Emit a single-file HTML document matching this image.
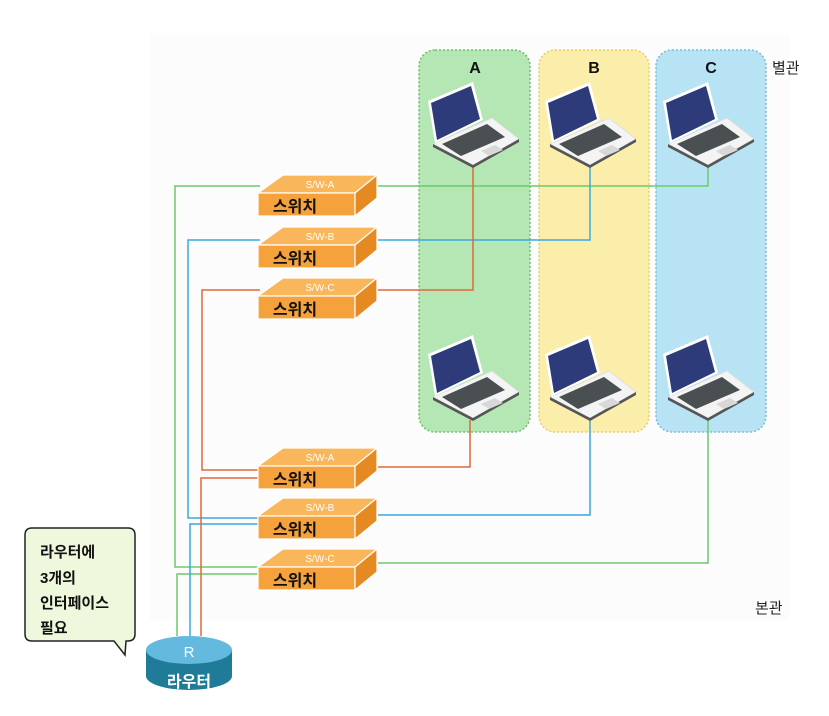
<!DOCTYPE html>
<html><head><meta charset="utf-8"><style>
html,body{margin:0;padding:0;background:#fff;}
svg{display:block;font-family:"Liberation Sans","Noto Sans CJK KR",sans-serif;}
</style></head><body>
<svg width="829" height="716" viewBox="0 0 829 716" xmlns="http://www.w3.org/2000/svg">
<defs>
<g id="sw">
  <polygon points="283,0 377,0 355,18 258,18" fill="#f9b65a" stroke="#fff" stroke-width="1.2"/>
  <rect x="258" y="18" width="97" height="23" fill="#f5a23c" stroke="#fff" stroke-width="1.2"/>
  <polygon points="355,18 377,0 377,23 355,41" fill="#e58a22" stroke="#fff" stroke-width="1.2"/>
  <text x="295" y="37" font-size="16" font-weight="bold" fill="#111" text-anchor="middle">스위치</text>
</g>
<g id="lap">
  <polygon points="-40,-21 19,-47 46,-26 0,0" fill="#f4f4f4" stroke="#ddd" stroke-width="0.8"/>
  <polygon points="-40,-21 0,0 46,-26 46,-23 0,3 -40,-18" fill="#555"/>
  <polygon points="-31,-21 14,-41 32,-28 -12,-9" fill="#4a4f52"/>
  <polygon points="8,-14 22,-20 30,-15 16,-9" fill="#d8d8d8"/>
  <polygon points="-45,-64 0,-83 10,-45 -38,-22" fill="#fff"/>
  <polygon points="-42,-62 -2,-79 7,-46 -36,-25" fill="#2d3b7a"/>
</g>
</defs>
<rect x="150" y="35" width="640" height="585" fill="#fcfcfc"/>
<rect x="419" y="50" width="111" height="382" rx="16" fill="#b4e7b4" stroke="#6cbf6c" stroke-width="1.5" stroke-dasharray="2,2"/>
<rect x="539" y="50" width="110" height="382" rx="16" fill="#fbeeaa" stroke="#e6cf6a" stroke-width="1.5" stroke-dasharray="2,2"/>
<rect x="656" y="50" width="110" height="382" rx="16" fill="#b8e3f4" stroke="#72bedc" stroke-width="1.5" stroke-dasharray="2,2"/>
<text x="475" y="73" font-size="16" font-weight="bold" text-anchor="middle" fill="#111">A</text>
<text x="594" y="73" font-size="16" font-weight="bold" text-anchor="middle" fill="#111">B</text>
<text x="711" y="73" font-size="16" font-weight="bold" text-anchor="middle" fill="#111">C</text>
<text x="772" y="73" font-size="15" fill="#222">별관</text>
<text x="755" y="613" font-size="15" fill="#222">본관</text>
<g fill="none" stroke-width="1.5">
  <polyline stroke="#6dc96d" points="260,186 175,186 175,567 258,567"/>
  <polyline stroke="#6dc96d" points="258,574 177,574 177,636"/>
  <polyline stroke="#6dc96d" points="378,186 708,186 708,165"/>
  <polyline stroke="#6dc96d" points="378,563 708,563 708,420"/>
  <polyline stroke="#3aa8e0" points="260,240 188,240 188,518 258,518"/>
  <polyline stroke="#3aa8e0" points="258,524 190,524 190,636"/>
  <polyline stroke="#3aa8e0" points="378,240 590,240 590,165"/>
  <polyline stroke="#3aa8e0" points="378,515 590,515 590,420"/>
  <polyline stroke="#e2683a" points="260,290 202,290 202,470 258,470"/>
  <polyline stroke="#e2683a" points="258,478 201,478 201,636"/>
  <polyline stroke="#e2683a" points="378,290 473,290 473,165"/>
  <polyline stroke="#e2683a" points="378,467 470,467 470,420"/>
</g>
<use href="#lap" x="473" y="165"/>
<use href="#lap" x="590" y="165"/>
<use href="#lap" x="708" y="165"/>
<use href="#lap" x="473" y="418"/>
<use href="#lap" x="590" y="418"/>
<use href="#lap" x="708" y="418"/>
<g transform="translate(0,175)"><use href="#sw"/><text x="320" y="13" font-size="10" fill="#fff" text-anchor="middle">S/W-A</text></g>
<g transform="translate(0,227)"><use href="#sw"/><text x="320" y="13" font-size="10" fill="#fff" text-anchor="middle">S/W-B</text></g>
<g transform="translate(0,278)"><use href="#sw"/><text x="320" y="13" font-size="10" fill="#fff" text-anchor="middle">S/W-C</text></g>
<g transform="translate(0,448)"><use href="#sw"/><text x="320" y="13" font-size="10" fill="#fff" text-anchor="middle">S/W-A</text></g>
<g transform="translate(0,498)"><use href="#sw"/><text x="320" y="13" font-size="10" fill="#fff" text-anchor="middle">S/W-B</text></g>
<g transform="translate(0,549)"><use href="#sw"/><text x="320" y="13" font-size="10" fill="#fff" text-anchor="middle">S/W-C</text></g>
<path d="M146,650 L146,676 A43,14 0 0 0 232,676 L232,650 Z" fill="#1f7b98"/>
<ellipse cx="189" cy="650" rx="43" ry="14" fill="#63b9de"/>
<text x="189" y="657" font-size="15" fill="#fff" text-anchor="middle">R</text>
<text x="189" y="687" font-size="16" font-weight="bold" fill="#fff" text-anchor="middle">라우터</text>
<path d="M32,528 L128,528 Q135,528 135,535 L135,634 Q135,641 128,641 L126,641 L125,655 L114,641 L32,641 Q25,641 25,634 L25,535 Q25,528 32,528 Z" fill="#eef8dc" stroke="#222" stroke-width="1.5"/>
<g font-size="15" font-weight="bold" fill="#111">
<text x="40" y="557">라우터에</text>
<text x="40" y="583">3개의</text>
<text x="40" y="608">인터페이스</text>
<text x="40" y="633">필요</text>
</g>
</svg>
</body></html>
